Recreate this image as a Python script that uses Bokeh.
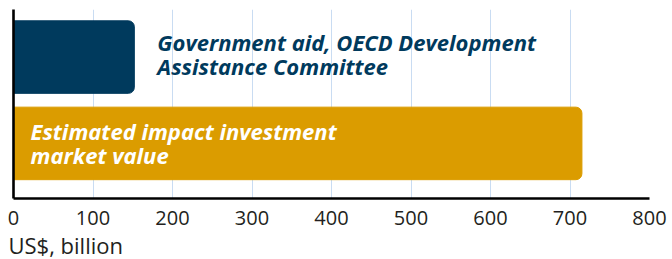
from bokeh.plotting import figure
from bokeh.models import ColumnDataSource, Range1d, FixedTicker, Title
from bokeh.core.properties import value
from bokeh.embed import file_html
from bokeh.resources import INLINE

# ---- data ----
categories = ["Government aid, OECD Development\nAssistance Committee",
              "Estimated impact investment\nmarket value"]
values = [152, 715]
bar_colors = ["#003A5D", "#DB9C00"]
label_colors = ["#003A5D", "#FFFFFF"]
x_ticks = [0, 100, 200, 300, 400, 500, 600, 700, 800]
x_axis_title = "US$, billion"

n = len(values)
ys = [n - 1 - i for i in range(n)]
inside = [v > x_ticks[-1] / 2 for v in values]
label_x = [0 if ins else v for ins, v in zip(inside, values)]
label_off = [17 if ins else 23 for ins in inside]
label_yoff = [0 if ins else -3 for ins in inside]

src = ColumnDataSource(dict(y=ys, v=values, c=bar_colors, t=categories,
                            lx=label_x, lo=label_off, lyo=label_yoff, lc=label_colors))

p = figure(width=672, height=259, output_backend="svg", toolbar_location=None,
           x_range=Range1d(x_ticks[0], x_ticks[-1]), y_range=Range1d(-0.638, 1.551),
           min_border_left=13, min_border_right=23, min_border_top=9, min_border_bottom=61)
p.outline_line_color = None
p.background_fill_color = "white"
p.border_fill_color = "white"

p.hbar(y="y", left=0, right="v", height=0.84, color="c", source=src,
       border_radius=(0, 6, 6, 0))

p.text(x="lx", y="y", text="t", x_offset="lo", y_offset="lyo", source=src, text_color="lc",
       text_font=value("Open Sans"), text_font_style="bold italic", text_font_size="22px",
       text_baseline="middle", text_align="left", text_line_height=0.8)

# grid
p.ygrid.visible = False
p.xgrid.ticker = FixedTicker(ticks=x_ticks)
p.xgrid.grid_line_color = "#C9DCF2"
p.xgrid.grid_line_width = 1

# x axis
xa = p.xaxis[0]
xa.ticker = FixedTicker(ticks=x_ticks)
xa.major_tick_out = 0
xa.major_tick_in = 0
xa.minor_tick_out = 0
xa.minor_tick_in = 0
xa.axis_line_color = "black"
xa.axis_line_width = 2.6
xa.major_label_standoff = 12
xa.major_label_text_font = "Open Sans"
xa.major_label_text_font_size = "20px"
xa.major_label_text_color = "#231F20"

# y axis
ya = p.yaxis[0]
ya.ticker = FixedTicker(ticks=[])
ya.major_tick_out = 0
ya.major_tick_in = 0
ya.minor_tick_out = 0
ya.minor_tick_in = 0
ya.major_label_text_font_size = "0px"
ya.major_label_standoff = 0
ya.axis_line_color = "black"
ya.axis_line_width = 2.6

t = Title(text=x_axis_title, align="left", offset=-5, text_font="Open Sans",
          text_font_size="22px", text_font_style="normal", text_color="#231F20",
          standoff=0)
p.add_layout(t, "below")

open("out.html", "w").write(file_html(p, INLINE))
